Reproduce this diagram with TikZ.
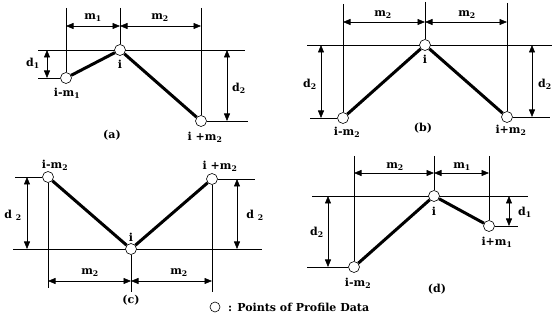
\documentclass[tikz,border=0pt]{standalone}
\usepackage{fontspec}
\setmainfont{DejaVu Serif}
\usetikzlibrary{arrows.meta}
\newcommand{\lsub}[1]{\textsubscript{#1}}
\pgfdeclarelayer{bg}
\pgfsetlayers{bg,main}
\begin{document}
\begin{tikzpicture}[x=1pt,y=-1pt,
  pt/.style={circle,draw,fill=white,line width=0.6pt,inner sep=0pt,minimum size=11pt},
  prof/.style={line width=3pt},
  guide/.style={line width=0.6pt},
  dim/.style={line width=0.6pt,{Triangle[length=7.5pt,width=6pt]}-{Triangle[length=7.5pt,width=6pt]}},
  lab/.style={font=\fontsize{11}{13}\selectfont\bfseries,inner sep=0pt}]
\useasboundingbox (0,0) rectangle (557,320);
% ---------- (a)
\node[pt] (a1) at (66,78) {};
\node[pt] (a0) at (120,50) {};
\node[pt] (a2) at (201,121) {};
\draw[prof] (a1) -- (a0);
\draw[prof] (a0) -- (a2);
\begin{pgfonlayer}{bg}
\draw[guide] (66,8) -- (a1);
\draw[guide] (120,8) -- (a0);
\draw[guide] (201,8) -- (a2);
\draw[guide] (38,50) -- (245,50);
\draw[guide] (38,78) -- (a1);
\draw[guide] (a2) -- (248,121);
\end{pgfonlayer}
\draw[dim] (a1 |- 0,26) -- (a0 |- 0,26);
\draw[dim] (a0 |- 0,26) -- (a2 |- 0,26);
\draw[dim] (47,50) -- (47,78);
\draw[dim] (227,50) -- (227,121);
\node[lab] (la1) at (93,18) {m\lsub{1}};
\node[lab] (la2) at (160,18) {m\lsub{2}};
\node[lab] (la3) at (33,63) {d\lsub{1}};
\node[lab] (la4) at (239,88) {d\lsub{2}};
\node[lab] (la5) at (67,93) {i-m\lsub{1}};
\node[lab] (la6) at (120,64) {i};
\node[lab] (la7) at (205,137) {i +m\lsub{2}};
\node[lab] (la8) at (112,135) {(a)};
% ---------- (b)
\node[pt] (b1) at (343,118) {};
\node[pt] (b0) at (425,45) {};
\node[pt] (b2) at (507,117) {};
\draw[prof] (b1) -- (b0);
\draw[prof] (b0) -- (b2);
\begin{pgfonlayer}{bg}
\draw[guide] (343,4) -- (b1);
\draw[guide] (425,2) -- (b0);
\draw[guide] (507,3) -- (b2);
\draw[guide] (307,45) -- (552,45);
\draw[guide] (310,118) -- (b1);
\draw[guide] (b2) -- (550,117);
\end{pgfonlayer}
\draw[dim] (b1 |- 0,22) -- (b0 |- 0,22);
\draw[dim] (b0 |- 0,22) -- (b2 |- 0,22);
\draw[dim] (321,45) -- (321,118);
\draw[dim] (532,45) -- (532,117);
\node[lab] (lb1) at (383,15) {m\lsub{2}};
\node[lab] (lb2) at (467,15) {m\lsub{2}};
\node[lab] (lb3) at (310,84) {d\lsub{2}};
\node[lab] (lb4) at (545,84) {d\lsub{2}};
\node[lab] (lb5) at (347,132) {i-m\lsub{2}};
\node[lab] (lb6) at (425,59) {i};
\node[lab] (lb7) at (511,130) {i+m\lsub{2}};
\node[lab] (lb8) at (423,128) {(b)};
% ---------- (c)
\node[pt] (c1) at (48,177) {};
\node[pt] (c0) at (131,249) {};
\node[pt] (c2) at (212,179) {};
\draw[prof] (c1) -- (c0);
\draw[prof] (c0) -- (c2);
\begin{pgfonlayer}{bg}
\draw[guide] (15,177) -- (c1);
\draw[guide] (c2) -- (255,179);
\draw[guide] (13,249) -- (262,249);
\draw[guide] (c1) -- (48,288);
\draw[guide] (c0) -- (131,292);
\draw[guide] (c2) -- (212,292);
\end{pgfonlayer}
\draw[dim] (c1 |- 0,281) -- (c0 |- 0,281);
\draw[dim] (c0 |- 0,281) -- (c2 |- 0,281);
\draw[dim] (27,177) -- (27,249);
\draw[dim] (237,179) -- (237,249);
\node[lab] (lc1) at (90,273) {m\lsub{2}};
\node[lab] (lc2) at (179,273) {m\lsub{2}};
\node[lab] (lc3) at (13,215) {d \lsub{2}};
\node[lab] (lc4) at (255,215) {d \lsub{2}};
\node[lab] (lc5) at (55,165) {i-m\lsub{2}};
\node[lab] (lc6) at (131,237) {i};
\node[lab] (lc7) at (220,166) {i +m\lsub{2}};
\node[lab] (lc8) at (131,300) {(c)};
% ---------- (d)
\node[pt] (d1) at (354,267) {};
\node[pt] (d0) at (434,196) {};
\node[pt] (d2) at (489,226) {};
\draw[prof] (d1) -- (d0);
\draw[prof] (d0) -- (d2);
\begin{pgfonlayer}{bg}
\draw[guide] (354,156) -- (d1);
\draw[guide] (434,156) -- (d0);
\draw[guide] (489,156) -- (d2);
\draw[guide] (312,196) -- (528,196);
\draw[guide] (307,267) -- (d1);
\draw[guide] (d2) -- (518,226);
\end{pgfonlayer}
\draw[dim] (d1 |- 0,173) -- (d0 |- 0,173);
\draw[dim] (d0 |- 0,173) -- (d2 |- 0,173);
\draw[dim] (328,196) -- (328,267);
\draw[dim] (509,196) -- (509,226);
\node[lab] (ld1) at (395,167) {m\lsub{2}};
\node[lab] (ld2) at (462,167) {m\lsub{1}};
\node[lab] (ld3) at (317,232) {d\lsub{2}};
\node[lab] (ld4) at (525,212) {d\lsub{1}};
\node[lab] (ld5) at (358,283) {i-m\lsub{2}};
\node[lab] (ld6) at (434,211) {i};
\node[lab] (ld7) at (497,242) {i+m\lsub{1}};
\node[lab] (ld8) at (437,289) {(d)};
% ---------- legend
\node[pt,minimum size=10pt] (leg) at (215,307) {};
\node[lab,anchor=west] (legt) at (228,307) {: Points of Profile Data};
\end{tikzpicture}
\end{document}
